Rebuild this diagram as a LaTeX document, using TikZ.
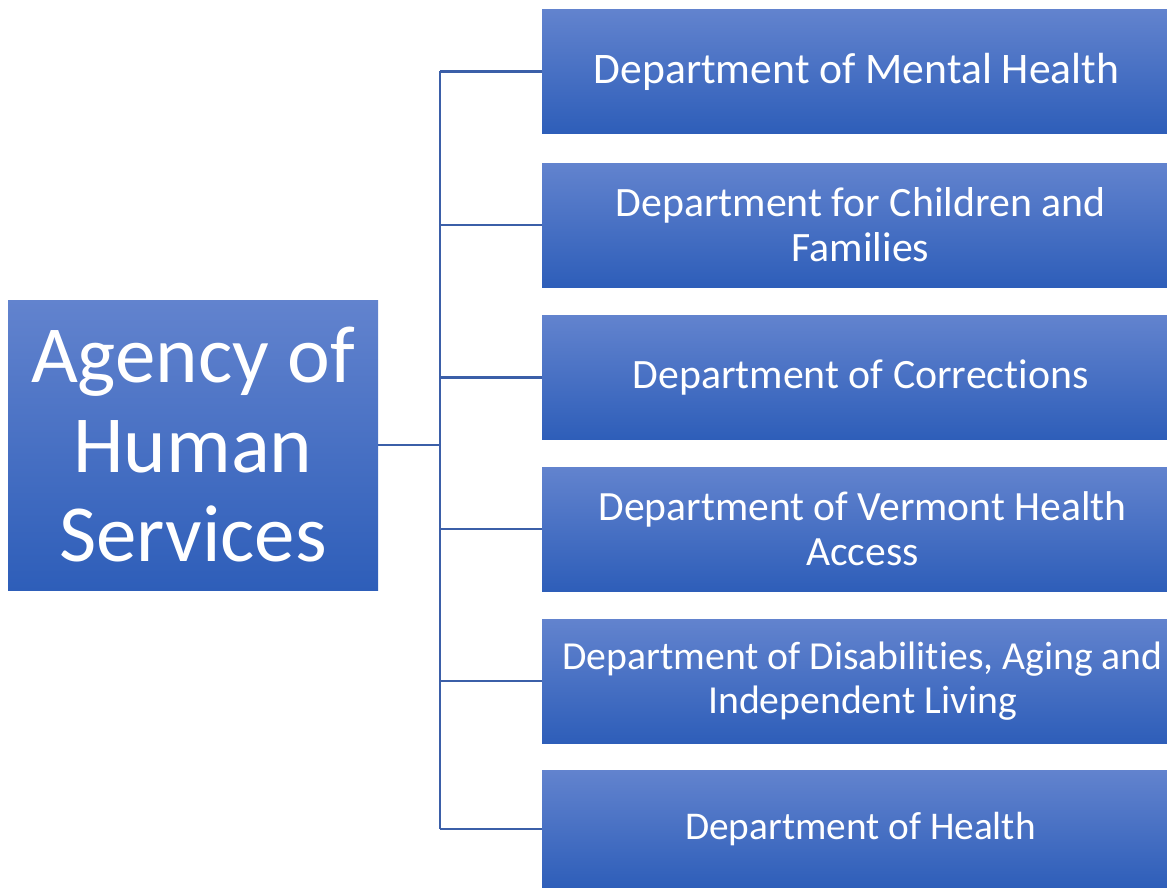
\documentclass[tikz,border=0pt]{standalone}
\usepackage{fontspec}
\setmainfont{Carlito}[Ligatures=NoCommon]
\newcommand{\deptsize}[1]{\fontsize{#1}{1.08*#1}\selectfont}
\begin{document}
\begin{tikzpicture}[x=1pt, y=-1pt,
  box/.style={shade, top color={rgb,255:red,98;green,131;blue,206},
    bottom color={rgb,255:red,46;green,94;blue,185},
    text=white, align=center, inner sep=0pt, anchor=center},
  agencybox/.style={box, minimum width=370pt, minimum height=290pt,
    font=\fontsize{81}{89.5}\selectfont},
  deptbox/.style={box, minimum width=625pt, minimum height=124pt},
  deptlabel/.style={text=white, align=center, inner sep=0pt, xshift=#1},
  deptlabel/.default=6pt,
  link/.style={draw={rgb,255:red,59;green,95;blue,168}, line width=2.2pt}]
\useasboundingbox (0,0) rectangle (1167,888);

% parent unit
\node[agencybox] (agency) at (193,445) {Agency of\\Human\\Services};

% departments (text set slightly right of the box centre)
\node[deptbox, label={[deptlabel=2pt, font=\fontsize{43.6}{47}\selectfont]center:Department of Mental Health}] (d1) at (854.5,71.5) {};
\node[deptbox, label={[deptlabel, font=\fontsize{41.8}{45}\selectfont]center:Department for Children and\\Families}] (d2) at (854.5,225) {};
\node[deptbox, label={[deptlabel, font=\fontsize{41.8}{45}\selectfont]center:Department of Corrections}] (d3) at (854.5,377.5) {};
\node[deptbox, label={[deptlabel=8pt, font=\fontsize{41.6}{45}\selectfont]center:Department of Vermont Health\\Access}] (d4) at (854.5,529) {};
\node[deptbox, label={[deptlabel=8pt, font=\fontsize{39.7}{44}\selectfont]center:Department of Disabilities, Aging and\\Independent Living}] (d5) at (854.5,681) {};
\node[deptbox, minimum height=118pt, label={[deptlabel, font=\fontsize{39.3}{43}\selectfont]center:Department of Health}] (d6) at (854.5,829) {};

% bus connector
\coordinate (bus) at (440,445);
\draw[link] (agency.east) -- (bus);
\draw[link] (bus |- d1.west) -- (bus |- d6.west);
\foreach \d in {d1,d2,d3,d4,d5,d6}
  \draw[link] (bus |- \d.west) -- (\d.west);
\end{tikzpicture}
\end{document}
